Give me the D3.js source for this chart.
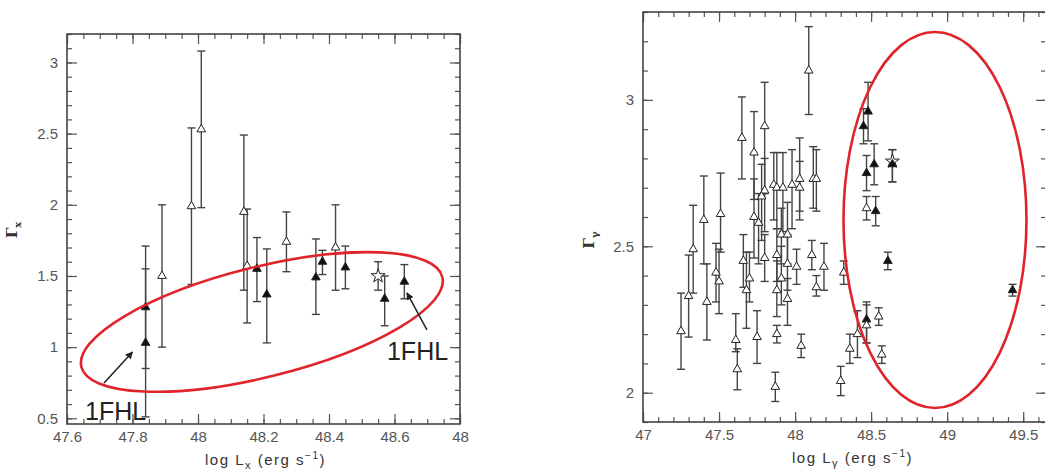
<!DOCTYPE html>
<html>
<head>
<meta charset="utf-8">
<script src="https://cdn.jsdelivr.net/npm/d3@7/dist/d3.min.js"></script>
<style>
  html, body { margin: 0; padding: 0; background: #fff; }
  #svg-container { width: 1045px; height: 470px; }
  .tick text { font-family: "Liberation Sans", Arial, sans-serif; font-size: 15px; fill: #555; }
  .axis-title { font-family: "Liberation Sans", Arial, sans-serif; font-size: 15px; fill: #333; letter-spacing: 1.5px; }
  .note { font-family: "Liberation Sans", Arial, sans-serif; font-size: 25px; fill: #222; }
</style>
</head>
<body>
<div id="svg-container"></div>
<script>
////////////////////////////////////////////////////////////////////
////////////////////////////  Data  ////////////////////////////////

// left panel : X-ray photon index vs log L_x
const xrayLogL = [47.84, 47.84, 47.89, 47.98, 48.01, 48.14, 48.15, 48.18, 48.21, 48.27, 48.36, 48.38, 48.42, 48.45, 48.55, 48.57, 48.63];
const xrayIndex = [1.28, 1.03, 1.50, 1.99, 2.53, 1.95, 1.57, 1.55, 1.37, 1.74, 1.49, 1.60, 1.70, 1.56, 1.50, 1.34, 1.46];
const xrayLow = [0.85, 0.51, 1.00, 1.44, 1.98, 1.40, 1.17, 1.32, 1.03, 1.53, 1.23, 1.51, 1.40, 1.41, 1.40, 1.15, 1.34];
const xrayHigh = [1.71, 1.55, 2.00, 2.54, 3.08, 2.49, 1.97, 1.77, 1.69, 1.95, 1.76, 1.68, 2.00, 1.71, 1.60, 1.50, 1.58];
const xrayType = ["filled", "filled", "open", "open", "open", "open", "open", "filled", "filled", "open", "filled", "filled", "open", "filled", "star", "filled", "filled"];

// right panel : gamma-ray photon index vs log L_gamma
const gammaLogL = [48.09, 47.65, 47.73, 47.80, 47.86, 47.88, 47.92, 47.98, 48.03, 48.03,
  48.12, 48.14, 47.80, 47.78, 47.73, 47.76, 47.40, 47.51, 47.33, 47.25,
  47.30, 47.42, 47.48, 47.50, 47.61, 47.62, 47.66, 47.68, 47.70, 47.75,
  47.80, 47.87, 47.88, 47.88, 47.88, 47.91, 47.95, 47.95, 48.01, 48.04,
  48.11, 48.14, 48.19, 48.30, 48.32, 48.36, 48.41, 48.47, 48.47, 48.55,
  48.57, 48.61, 49.43, 48.48, 48.45, 48.47, 48.52, 48.64, 48.64, 48.47,
  48.53, 47.91, 47.95];
const gammaIndex = [3.10, 2.87, 2.82, 2.91, 2.71, 2.70, 2.70, 2.71, 2.73, 2.70,
  2.73, 2.73, 2.69, 2.67, 2.60, 2.58, 2.59, 2.61, 2.49, 2.21,
  2.33, 2.31, 2.41, 2.38, 2.18, 2.08, 2.45, 2.35, 2.39, 2.19,
  2.46, 2.02, 2.47, 2.35, 2.20, 2.39, 2.44, 2.32, 2.43, 2.16,
  2.47, 2.36, 2.43, 2.04, 2.41, 2.15, 2.20, 2.25, 2.23, 2.26,
  2.13, 2.45, 2.35, 2.96, 2.91, 2.75, 2.78, 2.79, 2.78, 2.63,
  2.62, 2.54, 2.54];
const gammaLow = [2.95, 2.73, 2.66, 2.68, 2.59, 2.56, 2.55, 2.56, 2.62, 2.59,
  2.63, 2.62, 2.55, 2.52, 2.46, 2.44, 2.44, 2.48, 2.34, 2.08,
  2.19, 2.18, 2.31, 2.27, 2.14, 2.01, 2.36, 2.22, 2.31, 2.10,
  2.38, 1.97, 2.38, 2.26, 2.17, 2.30, 2.35, 2.23, 2.37, 2.12,
  2.42, 2.33, 2.35, 1.99, 2.37, 2.10, 2.12, 2.17, 2.17, 2.23,
  2.10, 2.42, 2.33, 2.86, 2.85, 2.69, 2.71, 2.72, 2.72, 2.59,
  2.57, 2.44, 2.44];
const gammaHigh = [3.25, 3.01, 2.96, 3.06, 2.82, 2.82, 2.82, 2.83, 2.87, 2.79,
  2.84, 2.83, 2.80, 2.78, 2.73, 2.68, 2.74, 2.75, 2.64, 2.34,
  2.47, 2.44, 2.51, 2.49, 2.27, 2.15, 2.54, 2.48, 2.48, 2.28,
  2.54, 2.07, 2.56, 2.45, 2.23, 2.50, 2.54, 2.39, 2.49, 2.20,
  2.52, 2.40, 2.51, 2.09, 2.45, 2.20, 2.28, 2.31, 2.30, 2.29,
  2.16, 2.48, 2.37, 3.06, 2.97, 2.81, 2.85, 2.83, 2.83, 2.67,
  2.67, 2.63, 2.65];
const gammaType = ["open", "open", "open", "open", "open", "open", "open", "open", "open", "open",
  "open", "open", "open", "open", "open", "open", "open", "open", "open", "open",
  "open", "open", "open", "open", "open", "open", "open", "open", "open", "open",
  "open", "open", "open", "open", "open", "open", "open", "open", "open", "open",
  "open", "open", "open", "open", "open", "open", "open", "filled", "open", "open",
  "open", "filled", "filled", "filled", "filled", "filled", "filled", "star", "filled", "open",
  "filled", "open", "open"];

// ticks
const xrayXTicks = [47.6, 47.8, 48, 48.2, 48.4, 48.6, 48.8];
const xrayXTickLabels = ["47.6", "47.8", "48", "48.2", "48.4", "48.6", "48"];
const xrayYTicks = [0.5, 1, 1.5, 2, 2.5, 3];
const gammaXTicks = [47, 47.5, 48, 48.5, 49, 49.5];
const gammaXTickLabels = ["47", "47.5", "48", "48.5", "49", "49.5"];
const gammaYTicks = [2, 2.5, 3];

////////////////////////////////////////////////////////////////////
////////////////////////////  Init  ////////////////////////////////

const width = 1045;
const height = 470;
const formatY = d3.format("~g"); // 3, 2.5, 2 ...

const svg = d3.select("#svg-container").append("svg")
  .attr("width", width).attr("height", height);

svg.append("defs").append("marker")
  .attr("id", "arrow")
  .attr("viewBox", "0 0 10 10")
  .attr("refX", 9).attr("refY", 5)
  .attr("markerWidth", 5).attr("markerHeight", 5)
  .attr("orient", "auto")
  .append("path").attr("d", "M0,0 L10,5 L0,10 z").attr("fill", "#222");

const toRows = (xs, ys, lo, hi, kind) => xs.map((d, i) => ({ x: d, y: ys[i], lo: lo[i], hi: hi[i], kind: kind[i] }));

function drawPanel(p) {
  const xScale = d3.scaleLinear().domain(p.xDomain).range([p.left, p.right]);
  const yScale = d3.scaleLinear().domain(p.yDomain).range([p.bottom, p.top]);
  const g = svg.append("g");

  const xMinor = d3.range(p.xDomain[0], p.xDomain[1] + 1e-9, p.xMinorStep).filter(v => v >= p.xDomain[0]);
  const yMinor = d3.range(Math.ceil(p.yDomain[0] / p.yMinorStep) * p.yMinorStep, p.yDomain[1] + 1e-9, p.yMinorStep);

  // axes, ticks pointing inward
  const axes = [
    [d3.axisBottom(xScale).tickValues(p.xTicks).tickSize(-10).tickPadding(7).tickFormat((d, i) => p.xLabels[i]), `translate(0,${p.bottom})`],
    [d3.axisBottom(xScale).tickValues(xMinor).tickSize(-5).tickFormat(""), `translate(0,${p.bottom})`],
    [d3.axisTop(xScale).tickValues(p.xTicks).tickSize(-10).tickFormat(""), `translate(0,${p.top})`],
    [d3.axisTop(xScale).tickValues(xMinor).tickSize(-5).tickFormat(""), `translate(0,${p.top})`],
    [d3.axisLeft(yScale).tickValues(p.yTicks).tickSize(-10).tickPadding(9).tickFormat(formatY), `translate(${p.left},0)`],
    [d3.axisLeft(yScale).tickValues(yMinor).tickSize(-5).tickFormat(""), `translate(${p.left},0)`],
    [d3.axisRight(yScale).tickValues(p.yTicks).tickSize(-10).tickFormat(""), `translate(${p.right},0)`],
    [d3.axisRight(yScale).tickValues(yMinor).tickSize(-5).tickFormat(""), `translate(${p.right},0)`]
  ];
  axes.forEach(([ax, tr]) => {
    const a = g.append("g").attr("transform", tr).call(ax);
    a.select(".domain").remove();
    a.selectAll(".tick line").attr("stroke", "#555").attr("stroke-width", 1.2);
  });

  g.append("rect")
    .attr("x", p.left).attr("y", p.top)
    .attr("width", p.right - p.left).attr("height", p.bottom - p.top)
    .attr("fill", "none").attr("stroke", "#444").attr("stroke-width", 1.6);

  // error bars
  const bars = g.selectAll(".err").data(p.rows).enter().append("g").attr("class", "err")
    .attr("stroke", "#444").attr("stroke-width", 1.4);
  bars.append("line")
    .attr("x1", d => xScale(d.x)).attr("x2", d => xScale(d.x))
    .attr("y1", d => yScale(d.lo)).attr("y2", d => yScale(d.hi));
  bars.append("line")
    .attr("x1", d => xScale(d.x) - 4).attr("x2", d => xScale(d.x) + 4)
    .attr("y1", d => yScale(d.lo)).attr("y2", d => yScale(d.lo));
  bars.append("line")
    .attr("x1", d => xScale(d.x) - 4).attr("x2", d => xScale(d.x) + 4)
    .attr("y1", d => yScale(d.hi)).attr("y2", d => yScale(d.hi));

  // markers
  g.selectAll(".pt").data(p.rows).enter().append("path").attr("class", "pt")
    .attr("transform", d => `translate(${xScale(d.x)},${yScale(d.y)})`)
    .attr("d", d => d3.symbol().type(d.kind === "star" ? d3.symbolStar : d3.symbolTriangle).size(d.kind === "star" ? 60 : 32)())
    .attr("fill", d => d.kind === "filled" ? "#111" : "#fff")
    .attr("stroke", "#222").attr("stroke-width", 1);

  // red ellipse
  const e = p.ellipse;
  g.append("ellipse")
    .attr("cx", xScale(e.cx)).attr("cy", yScale(e.cy))
    .attr("rx", e.rx).attr("ry", e.ry)
    .attr("transform", `rotate(${e.rot},${xScale(e.cx)},${yScale(e.cy)})`)
    .attr("fill", "none").attr("stroke", "#e0242b").attr("stroke-width", 2.6);

  // notes
  (p.arrows || []).forEach(a => {
    g.append("line")
      .attr("x1", xScale(a[0])).attr("y1", yScale(a[1]))
      .attr("x2", xScale(a[2])).attr("y2", yScale(a[3]))
      .attr("stroke", "#222").attr("stroke-width", 1.5)
      .attr("marker-end", "url(#arrow)");
  });
  (p.notes || []).forEach(n => {
    g.append("text").attr("class", "note")
      .attr("x", xScale(n[0])).attr("y", yScale(n[1])).text(n[2]);
  });

  // axis titles
  const xt = g.append("text").attr("class", "axis-title")
    .attr("x", (p.left + p.right) / 2 + p.xTitleShift).attr("y", p.bottom + 41)
    .attr("text-anchor", "middle");
  xt.append("tspan").text("log L");
  xt.append("tspan").attr("dy", 4).attr("font-size", 11).text(p.sub);
  xt.append("tspan").attr("dy", -4).text(" (erg s");
  xt.append("tspan").attr("dy", -6).attr("font-size", 10).text("−1");
  xt.append("tspan").attr("dy", 6).text(")");

  const yt = g.append("text")
    .attr("transform", `translate(${p.yTitleX},${p.yTitleY}) rotate(-90)`)
    .attr("text-anchor", "middle")
    .attr("font-family", "DejaVu Serif, serif").attr("font-weight", "bold")
    .attr("font-size", 15).attr("fill", "#333");
  yt.append("tspan").text("Γ");
  yt.append("tspan").attr("dy", 4).attr("font-size", 10).text(p.sub);
}

////////////////////////////////////////////////////////////////////
////////////////////////////  Panels  //////////////////////////////

drawPanel({
  left: 67, right: 460, top: 34, bottom: 424,
  xDomain: [47.6, 48.8], yDomain: [0.46, 3.2],
  xTicks: xrayXTicks, xLabels: xrayXTickLabels, yTicks: xrayYTicks,
  xMinorStep: 0.05, yMinorStep: 0.1,
  rows: toRows(xrayLogL, xrayIndex, xrayLow, xrayHigh, xrayType),
  ellipse: { cx: 48.195, cy: 1.177, rx: 186, ry: 55, rot: -14 },
  arrows: [[47.713, 0.748, 47.80, 0.966], [48.699, 1.121, 48.638, 1.381]],
  notes: [[47.655, 0.488, "1FHL"], [48.577, 0.91, "1FHL"]],
  sub: "x", xTitleShift: 2, yTitleX: 17, yTitleY: 230
});

drawPanel({
  left: 643, right: 1046, top: 12, bottom: 422,
  xDomain: [47, 49.65], yDomain: [1.9, 3.3],
  xTicks: gammaXTicks, xLabels: gammaXTickLabels, yTicks: gammaYTicks,
  xMinorStep: 0.1, yMinorStep: 0.1,
  rows: toRows(gammaLogL, gammaIndex, gammaLow, gammaHigh, gammaType),
  ellipse: { cx: 48.92, cy: 2.59, rx: 91.5, ry: 188, rot: 0 },
  sub: "γ", xTitleShift: 8, yTitleX: 594, yTitleY: 240
});
</script>
</body>
</html>
